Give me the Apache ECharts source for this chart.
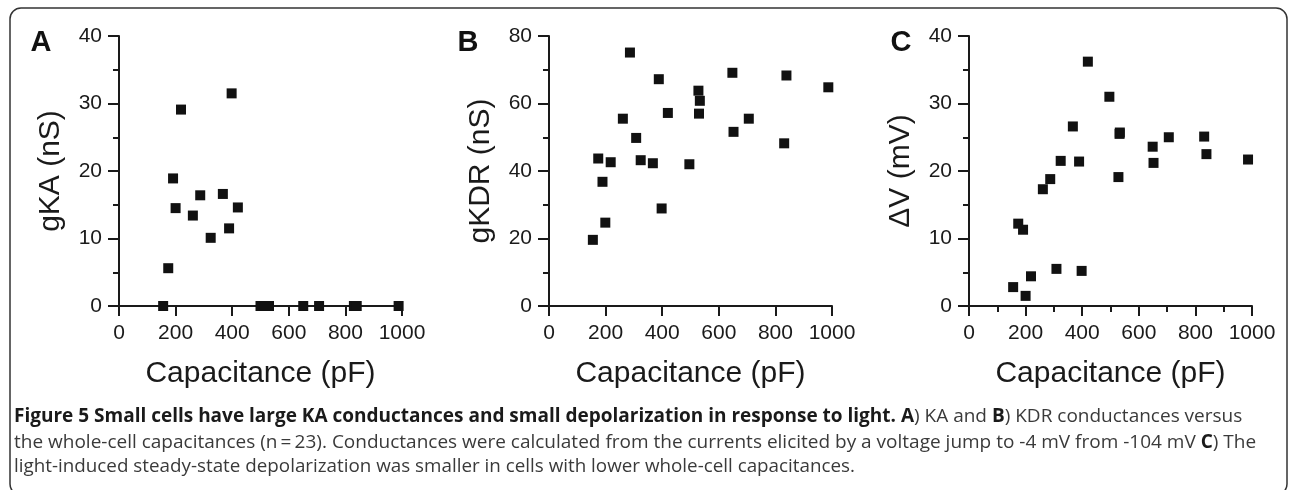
<!DOCTYPE html>
<html>
<head>
<meta charset="utf-8">
<title>Figure 5</title>
<script src="https://cdn.jsdelivr.net/npm/echarts@6/dist/echarts.min.js"></script>
<style>
html,body{margin:0;padding:0;background:#fff;}
#chart{width:1290px;height:490px;}
</style>
</head>
<body>
<div id="chart"></div>
<script>
// values (capacitance in pF)
var capA = [156, 174, 191, 200, 219, 261, 287, 324, 367, 389, 398, 420, 500, 515, 530, 651, 707, 830, 840, 988];
var gKA  = [0, 5.6, 18.9, 14.5, 29.1, 13.4, 16.4, 10.1, 16.6, 11.5, 31.5, 14.6, 0, 0, 0, 0, 0, 0, 0, 0];

var capB = [155, 174, 189, 199, 218, 261, 286, 308, 324, 367, 388, 398, 420, 496, 528, 530, 533, 648, 652, 706, 831, 839, 987];
var gKDR = [19.6, 43.7, 36.8, 24.7, 42.6, 55.5, 75.1, 49.8, 43.2, 42.3, 67.2, 28.9, 57.2, 42.0, 63.8, 57.0, 60.8, 69.1, 51.6, 55.5, 48.2, 68.3, 64.8];

var capC = [156, 174, 191, 200, 219, 261, 287, 309, 324, 367, 389, 398, 420, 496, 528, 532, 533, 649, 652, 706, 831, 839, 986];
var dV   = [2.8, 12.2, 11.3, 1.5, 4.4, 17.3, 18.8, 5.5, 21.5, 26.6, 21.4, 5.2, 36.2, 31.0, 19.1, 25.5, 25.7, 23.6, 21.2, 25.0, 25.1, 22.5, 21.7];

var xTicks = [0, 200, 400, 600, 800, 1000];
var panelLetters = ['A', 'B', 'C'];
var yNames = ['gKA (nS)', 'gKDR (nS)', '\u0394V (mV)'];
var yMax = [40, 80, 40];
var yStep = [10, 20, 10];

var captionLines = [
	'{b|Figure 5 Small cells have large KA conductances and small depolarization in response to light. A}{n|) KA and }{b|B}{n|) KDR conductances versus}',
	'{n|the whole-cell capacitances (n\u2009=\u200923). Conductances were calculated from the currents elicited by a voltage jump to -4 mV from -104 mV }{b|C}{n|) The}',
	'{n|light-induced steady-state depolarization was smaller in cells with lower whole-cell capacitances.}'
];

function pairs(xs, ys) {
	var out = [];
	for (var i = 0; i < xs.length; i++) {
		out.push([xs[i], ys[i]]);
	}
	return out;
}

function plainNum(v) {
	return String(v);
}

var axisFont = 'Liberation Sans';
var ink = '#1a1a1a';
var gridLefts = [119, 549, 969];

var grids = [], xAxes = [], yAxes = [], series = [], graphics = [];
var dataSets = [pairs(capA, gKA), pairs(capB, gKDR), pairs(capC, dV)];

for (var i = 0; i < 3; i++) {
	grids.push({left: gridLefts[i], top: 36, width: 283, height: 270, outerBoundsMode: 'none'});
	xAxes.push({
		gridIndex: i, type: 'value', min: 0, max: xTicks[xTicks.length - 1], interval: xTicks[1] - xTicks[0],
		name: 'Capacitance (pF)', nameLocation: 'middle', nameGap: 53,
		nameTextStyle: {fontSize: 30, color: ink, fontFamily: axisFont},
		axisLine: {show: true, onZero: false, lineStyle: {color: ink, width: 2}},
		axisTick: {show: true, length: 10, lineStyle: {color: ink, width: 2}},
		minorTick: {show: i == 2, splitNumber: 2, length: 6, lineStyle: {color: ink, width: 2}},
		splitLine: {show: false},
		minorSplitLine: {show: false},
		axisLabel: {fontSize: 21, color: ink, fontFamily: axisFont, margin: 17, formatter: plainNum}
	});
	yAxes.push({
		gridIndex: i, type: 'value', min: 0, max: yMax[i], interval: yStep[i],
		name: yNames[i], nameLocation: 'middle', nameGap: 53,
		nameTextStyle: {fontSize: 30, color: ink, fontFamily: axisFont},
		axisLine: {show: true, lineStyle: {color: ink, width: 2}},
		axisTick: {show: true, length: 11, lineStyle: {color: ink, width: 2}},
		minorTick: {show: true, splitNumber: 2, length: 6, lineStyle: {color: ink, width: 2}},
		splitLine: {show: false},
		minorSplitLine: {show: false},
		axisLabel: {fontSize: 21, color: ink, fontFamily: axisFont, margin: 17, formatter: plainNum}
	});
	series.push({
		type: 'scatter', xAxisIndex: i, yAxisIndex: i,
		symbol: 'rect', symbolSize: 10, clip: false,
		itemStyle: {color: '#111', opacity: 1},
		emphasis: {disabled: true},
		data: dataSets[i]
	});
}

// panel letters
var letterX = [41, 468, 901];
for (var i = 0; i < 3; i++) {
	graphics.push({
		type: 'text', x: letterX[i], y: 43,
		style: {text: panelLetters[i], fontSize: 29, fontWeight: 'bold', fontFamily: axisFont,
			fill: '#111', align: 'center', verticalAlign: 'middle'}
	});
}

// frame
graphics.push({
	type: 'rect', shape: {x: 10, y: 8, width: 1277, height: 487, r: 11},
	style: {fill: 'none', stroke: '#333', lineWidth: 1.5}, silent: true
});

// caption
var capY = [417, 443, 467];
var capScale = [1, 1, 0.99];
for (var i = 0; i < captionLines.length; i++) {
	graphics.push({
		type: 'text', x: 14, y: capY[i], scaleX: capScale[i],
		style: {
			text: captionLines[i], x: 0, y: 0, verticalAlign: 'middle', align: 'left',
			fontFamily: 'Open Sans', fontSize: 19,
			rich: {
				b: {fontFamily: 'Open Sans', fontSize: 19, fontWeight: 'bold', fill: '#1a1a1a'},
				n: {fontFamily: 'Open Sans', fontSize: 19, fill: '#3a3a3a'}
			}
		}
	});
}

var chart = echarts.init(document.getElementById('chart'), null, {renderer: 'canvas'});
chart.setOption({
	animation: false,
	backgroundColor: '#fff',
	grid: grids,
	xAxis: xAxes,
	yAxis: yAxes,
	series: series,
	graphic: graphics
});
</script>
</body>
</html>
